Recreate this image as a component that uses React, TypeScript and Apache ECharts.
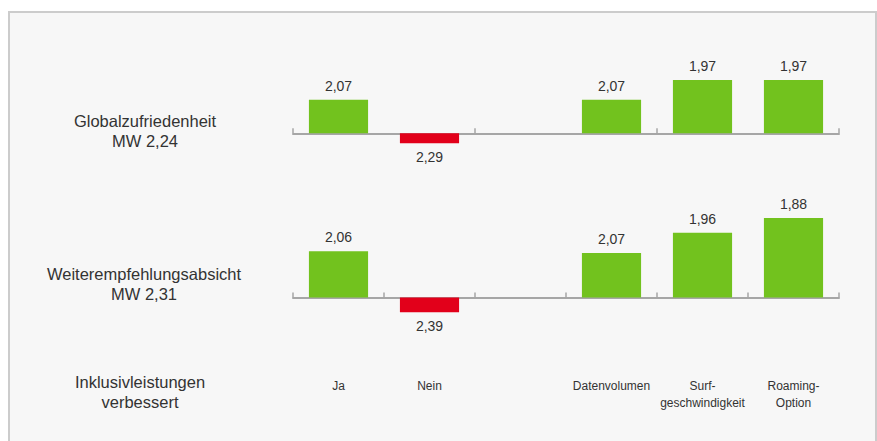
import React, { useEffect, useRef } from "react";
import * as echarts from "echarts";

const categories = ["Ja", "Nein", "", "Datenvolumen", "Surf-\ngeschwindigkeit", "Roaming-\nOption"];
const globalMW = 2.24;
const globalValues: (number | null)[] = [2.07, 2.29, null, 2.07, 1.97, 1.97];
const weiterMW = 2.31;
const weiterValues: (number | null)[] = [2.06, 2.39, null, 2.07, 1.96, 1.88];
const rowLabels = ["Globalzufriedenheit\nMW 2,24", "Weiterempfehlungsabsicht\nMW 2,31", "Inklusivleistungen\nverbessert"];

const GREEN = "#72c21e";
const RED = "#e2001a";
const FONT = "'Liberation Sans', Arial, sans-serif";

function fmt(v: number) {
  return v.toFixed(2).replace(".", ",");
}

function buildData(values: (number | null)[], mw: number) {
  return values.map((v) => {
    if (v == null) return { value: "-" as any };
    const diff = +(mw - v).toFixed(2);
    const pos = diff >= 0;
    return {
      value: diff,
      orig: v,
      itemStyle: { color: pos ? GREEN : RED },
      label: { position: pos ? "top" : "bottom", distance: 7 },
    };
  });
}

export default function App() {
  const ref = useRef<HTMLDivElement>(null);
  useEffect(() => {
    if (!ref.current) return;
    const chart = echarts.init(ref.current, undefined, { renderer: "svg" });
    const xBase = {
      type: "category" as const,
      data: categories,
      axisLine: { onZero: true, lineStyle: { color: "#a6a6a6", width: 2 } },
      axisTick: { show: true, inside: true, length: 5, lineStyle: { color: "#a6a6a6", width: 1.5 } },
      splitLine: { show: false },
    };
    const labelCfg = {
      show: true,
      fontSize: 14,
      color: "#333",
      fontFamily: FONT,
      formatter: (p: any) => (p.data && p.data.orig != null ? fmt(p.data.orig) : ""),
    };
    const leftText = (text: string, x: number, y: number) => ({
      type: "text",
      x,
      y,
      style: { text, fontSize: 16.5, lineHeight: 20, fill: "#333", fontFamily: FONT, align: "center", verticalAlign: "middle" },
    });
    chart.setOption({
      animation: false,
      backgroundColor: "#ffffff",
      graphic: [
        {
          type: "rect",
          z: -10,
          shape: { x: 9, y: 12, width: 867, height: 450 },
          style: { fill: "#f7f7f7", stroke: "#cccccc", lineWidth: 2 },
          silent: true,
        },
        leftText(rowLabels[0], 145, 131),
        leftText(rowLabels[1], 144, 284),
        leftText(rowLabels[2], 140, 392),
      ],
      grid: [
        { left: 293, width: 546, top: 74, height: 79 },
        { left: 293, width: 546, top: 205, height: 111 },
      ],
      xAxis: [
        { ...xBase, gridIndex: 0, axisLabel: { show: false } },
        {
          ...xBase,
          gridIndex: 1,
          axisLabel: { show: true, margin: 61, fontSize: 12, lineHeight: 17, color: "#333", fontFamily: FONT, interval: 0 },
        },
      ],
      yAxis: [
        { type: "value", gridIndex: 0, min: -0.1, max: 0.3, show: false },
        { type: "value", gridIndex: 1, min: -0.1, max: 0.5, show: false },
      ],
      series: [
        {
          type: "bar",
          xAxisIndex: 0,
          yAxisIndex: 0,
          barCategoryGap: "35%",
          data: buildData(globalValues, globalMW),
          label: labelCfg,
        },
        {
          type: "bar",
          xAxisIndex: 1,
          yAxisIndex: 1,
          barCategoryGap: "35%",
          data: buildData(weiterValues, weiterMW),
          label: labelCfg,
        },
      ],
    });
    return () => chart.dispose();
  }, []);
  return <div ref={ref} style={{ position: "fixed", left: 0, top: 0, width: 877, height: 441 }} />;
}
